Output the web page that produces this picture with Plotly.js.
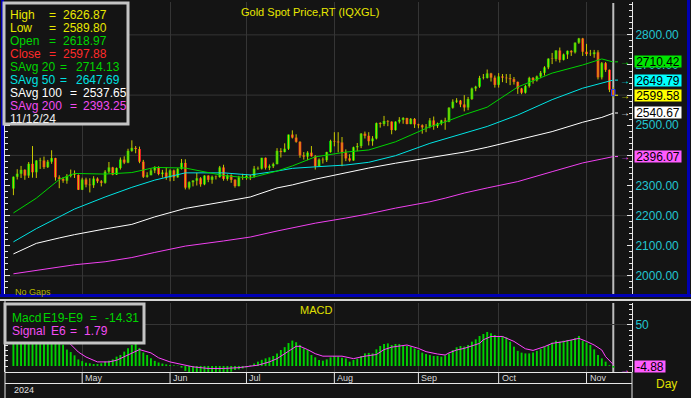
<!DOCTYPE html>
<html><head><meta charset="utf-8">
<script src="https://cdn.plot.ly/plotly-3.0.1.min.js"></script>
<style>html,body{margin:0;padding:0;background:#141414;overflow:hidden}#chart{width:691px;height:398px}</style>
</head><body><div id="chart"></div>
<script>
// ---------------- DATA ----------------
const startDate = '2024-04-05';
const barCount = 158;
function weekdays(start, n){const out=[];const d=new Date(start+'T00:00:00Z');while(out.length<n){const wd=d.getUTCDay();if(wd!==0&&wd!==6)out.push(d.toISOString().slice(0,10));d.setUTCDate(d.getUTCDate()+1);}return out;}
const dates = weekdays(startDate, barCount);

const open = [
2290,2329,2339,2352,2333,2372,2344,2383,2383,2361,2379,2391,2327,2322,2316,2332,2337,2335,
2286,2320,2303,2301,2323,2314,2309,2346,2360,2336,2358,2386,2376,2415,2425,2421,2379,2329,2334,2350,2361,2338,2343,
2327,2350,2327,2355,2375,2293,2311,2316,2324,2304,2333,2319,2329,2328,2360,2322,2334,2319,2298,2327,
2326,2332,2330,2356,2356,2392,2359,2364,2371,2415,2411,2422,2469,2459,2445,2400,2396,2409,2397,2364,2386,2384,2411,
2448,2446,2443,2410,2390,2383,2427,2431,2472,2465,2447,2456,2507,2504,2514,2512,2484,2512,2518,2524,2504,2521,
2503,2500,2493,2495,2516,2497,2506,2516,2512,2558,2578,2582,2569,2559,2587,2622,2628,2657,2657,2672,2658,
2634,2662,2658,2656,2653,2644,2622,2608,2630,2657,2649,2662,2674,2692,2721,2720,2748,2717,2735,2747,2742,2774,2788,
2744,2736,2736,2742,2659,2706,2684,2618.97];
const high = [
2330,2354,2365,2354,2378,2431,2384,2392,2396,2385,2417,2392,2334,2328,2338,2353,2350,2337,
2326,2326,2324,2331,2327,2318,2351,2378,2362,2360,2393,2397,2422,2450,2431,2429,2385,2344,2357,2364,2364,2352,2360,
2354,2353,2358,2388,2387,2314,2318,2342,2328,2334,2334,2333,2333,2365,2369,2337,2337,2321,2332,2339,
2338,2336,2365,2363,2392,2393,2370,2376,2424,2424,2440,2469,2483,2470,2447,2411,2414,2431,2401,2390,2393,2412,2452,
2477,2477,2461,2420,2404,2429,2441,2474,2479,2477,2464,2509,2510,2531,2517,2513,2513,2527,2527,2525,2524,2524,
2505,2503,2504,2524,2529,2509,2518,2525,2560,2586,2590,2584,2600,2594,2625,2631,2664,2670,2685,2674,2665,
2673,2670,2670,2670,2660,2645,2624,2634,2661,2660,2665,2680,2696,2722,2740,2749,2758,2738,2748,2749,2775,2790,2790,
2770,2750,2750,2749,2710,2710,2685,2626.87];
const low = [
2268,2320,2325,2319,2325,2326,2325,2355,2355,2358,2372,2316,2291,2309,2306,2327,2325,2285,
2285,2294,2277,2292,2308,2297,2306,2340,2334,2335,2353,2371,2374,2412,2407,2374,2325,2326,2334,2341,2334,2326,2319,
2314,2315,2326,2353,2287,2287,2297,2300,2296,2301,2311,2306,2320,2326,2316,2316,2309,2293,2297,2319,
2319,2318,2326,2352,2353,2353,2351,2358,2370,2393,2410,2418,2456,2442,2392,2386,2384,2396,2353,2364,2373,2378,2409,
2430,2410,2364,2381,2379,2382,2414,2424,2456,2433,2432,2453,2492,2497,2497,2470,2482,2506,2505,2503,2503,2491,
2490,2472,2477,2490,2485,2491,2500,2485,2510,2555,2574,2560,2546,2550,2584,2613,2624,2652,2655,2645,2625,
2625,2643,2640,2633,2635,2604,2603,2605,2625,2638,2645,2656,2665,2686,2703,2712,2708,2715,2720,2730,2738,2770,2730,
2730,2730,2724,2652,2652,2677,2610,2589.80];
const close = [
2329,2339,2352,2333,2372,2344,2383,2383,2361,2379,2391,2327,2322,2316,2332,2337,2335,2286,
2320,2303,2301,2323,2314,2309,2346,2360,2336,2358,2386,2376,2415,2425,2421,2379,2329,2334,2350,2361,2338,2343,2327,
2350,2327,2355,2375,2293,2311,2316,2324,2304,2333,2319,2329,2328,2360,2322,2334,2319,2298,2327,2326,
2332,2330,2356,2356,2392,2359,2364,2371,2415,2411,2422,2469,2459,2445,2400,2396,2409,2397,2364,2386,2384,2411,2448,
2446,2443,2410,2390,2383,2427,2431,2472,2465,2447,2456,2507,2504,2514,2512,2484,2512,2518,2524,2504,2521,2503,
2500,2493,2495,2516,2497,2506,2516,2512,2558,2578,2582,2569,2559,2587,2622,2628,2657,2657,2672,2658,2634,
2662,2658,2656,2653,2644,2622,2608,2630,2657,2649,2662,2674,2692,2721,2720,2748,2717,2735,2747,2742,2774,2788,2744,
2736,2736,2742,2659,2706,2684,2618,2597.88];

// moving averages (bar index -> value)
const smaIdx = [0,6,12,16,24,31,37,45,55,62,69,73,79,87,93,100,109,113,118,124,132,141,149,154,157];
const sma20  = [2209,2258,2320,2340,2338,2343,2360,2358,2333,2325,2348,2365,2395,2411,2418,2445,2495,2511,2535,2560,2627,2673,2700,2720,2710];
const sma50  = [2113,2157,2196,2222,2262,2294,2318,2342,2342,2335,2348,2357,2362,2368,2377,2399,2440,2455,2475,2496,2534,2585,2623,2640,2650];
const sma100 = [2073,2108,2126,2137,2156,2171,2196,2224,2246,2262,2292,2302,2321,2343,2358,2374,2392,2400,2411,2427,2451,2479,2510,2526,2540];
const sma200 = [2007,2019,2030,2037,2047,2061,2078,2099,2116,2129,2149,2160,2175,2192,2206,2225,2246,2258,2275,2292,2313,2346,2375,2388,2396];

// MACD histogram (one per bar) and signal line
const macdHist = [
50,52,54,55,56,57,57,56,55,53,50,44,36,26,20,17,13,8,6,4,
3.3,2.4,2.4,3.3,5.3,6.5,8.1,11.4,13.4,17.5,21.5,25.6,27.6,22,16.5,13.4,9.5,6.3,4.3,3,
2,1.2,0.8,0.5,-2,-6,-9,-10,-9,-10,-10,-9,-10,-10,-8,-9,-8,-7,-5,-4,
-3,-2,1,3,5.3,7.5,9.3,10.6,12.2,15.4,19.5,23,28,31,29,25.6,21.5,19.5,13.4,10.6,
7.3,6.5,8.1,10.6,12.2,11.4,10,9.3,5.3,7.3,8.9,12.2,15.4,16,15.4,20.3,24.4,26.8,27.6,25.6,
26.8,26.8,25,24.4,23.6,21.5,19.5,16.3,14.6,13.4,12.2,12.2,11.4,13,15.4,19.5,22.8,24.4,23.6,25.6,
29.7,32.5,36.6,39,41.5,39.8,37.8,36.6,36.6,35,29.7,23.6,18.5,16.3,15.4,15.4,16.5,18.5,20.5,23.6,
25.6,28.5,30.9,29.7,30.9,31.7,31.7,34,36.6,30.9,28.5,25.6,20.3,13.4,9.3,5.3,1,-2];
const sigIdx = [0,8,12,14,17,19,22,25,27,30,33,36,38,41,44,47,51,55,59,62,64,67,69,72,74,75,77,79,81,84,86,89,92,95,97,99,101,103,106,108,111,113,114,116,118,120,122,123,125,128,131,134,136,139,141,144,147,148,150,152,154,155,157];
const sigVal = [46,44,38,31,17,11,5,5,7,14,20,16,10,5,2,-1,-3,-3,-2,0,1,5,9,18,24,24,20,15,12,12,12,9,12,14,20,23,24,25.6,21.5,17.5,14.6,13.4,16,19.5,21.5,24.4,27.6,32,36,36,30,21,19,23.6,27.6,29.7,32.5,33.7,30,25.6,19.5,11.4,1.8];

// text values
const chartTitle = 'Gold Spot Price,RT (IQXGL)';
const legendLabels = ['High','Low','Open','Close','SAvg 20','SAvg 50','SAvg 100','SAvg 200'];
const legendValues = ['2626.87','2589.80','2618.97','2597.88','2714.13','2647.69','2537.65','2393.25'];
const legendDate = '11/12/24';
const macdLegend = [['Macd','E19-E9','=','-14.31'],['Signal','E6','=','1.79']];
const endLabels = [2710.42, 2649.79, 2599.58, 2540.67, 2396.07];
const macdEndLabel = '-4.88';
const priceTicks = [2000,2100,2200,2300,2400,2500,2600,2700,2800];
const monthNames = ['Jan','Feb','Mar','Apr','May','Jun','Jul','Aug','Sep','Oct','Nov','Dec'];
const yearLabel = '2024';

// ---------------- STYLE / LAYOUT ----------------
const F = "Arial, 'Liberation Sans', sans-serif";
const W = 691, H = 398, PL = 5, PR = 632, PT = 2, PB = 372;
const px2x = p => (p - PL) / (PR - PL);
const py2y = p => (PB - p) / (PB - PT);
const BG = '#141414', GRID = '#353535';
const C = {yellow:'#e8e800', green:'#00d400', red:'#ff2a2a', cyan:'#00e0e0', white:'#ffffff', magenta:'#f24cf2'};

const monthStart = [];
for (let i = 1; i < dates.length; i++) if (dates[i].slice(5,7) !== dates[i-1].slice(5,7)) monthStart.push(i);

// traces
const wx = [], wy = [];
dates.forEach((d,i) => { wx.push(d,d,null); wy.push(low[i],high[i],null); });
const traces = [];
traces.push({type:'scatter', mode:'lines', x:wx, y:wy, line:{color:'#c8c800', width:1}, connectgaps:false, hoverinfo:'skip', xaxis:'x', yaxis:'y'});
traces.push({type:'bar', x:dates, base:open.map((o,i)=>Math.min(o,close[i])),
  y:open.map((o,i)=>Math.max(Math.abs(close[i]-o),1.5)), width:0.72,
  marker:{color:open.map((o,i)=>close[i]>=o?'#00dc00':'#ff2424'), line:{width:0}}, xaxis:'x', yaxis:'y'});
const smaX = smaIdx.map(i=>dates[i]);
[[sma200,'#f040f0'],[sma100,'#ffffff'],[sma50,'#00e4e4'],[sma20,'#00d400']].forEach(([v,c]) =>
  traces.push({type:'scatter', mode:'lines', x:smaX, y:v, line:{color:c, width:1}, xaxis:'x', yaxis:'y'}));
traces.push({type:'bar', x:dates, y:macdHist, width:0.5, marker:{color:'#00d200', line:{width:0}}, xaxis:'x', yaxis:'y2'});
traces.push({type:'scatter', mode:'lines', x:sigIdx.map(i=>dates[i]), y:sigVal, line:{color:'#ff44ff', width:1}, xaxis:'x', yaxis:'y2'});

// shapes
const shapes = [];
const L = (x0,y0,x1,y1,color,width,extra) => Object.assign({type:'line', xref:'paper', yref:'paper',
  x0:px2x(x0), x1:px2x(x1), y0:py2y(y0), y1:py2y(y1), line:{color, width}, layer:'above'}, extra||{});
for (let v = 2000; v <= 2800; v += 200)
  shapes.push({type:'line', xref:'paper', x0:0, x1:1, yref:'y', y0:v, y1:v, line:{color:GRID, width:1}, layer:'below'});
const last = dates.length - 1;
shapes.push({type:'line', xref:'x', x0:last, x1:last, yref:'paper', y0:py2y(294), y1:py2y(3), line:{color:'#bdbdbd', width:2}, layer:'below'});
shapes.push({type:'line', xref:'x', x0:last, x1:last, yref:'paper', y0:0, y1:py2y(303), line:{color:'#bdbdbd', width:2}, layer:'below'});
// blue frame of price pane
shapes.push(L(2.5,0,2.5,297,'#0000b4',3));
shapes.push(L(0,295.5,691,295.5,'#0000b4',3));
shapes.push(L(688.5,0,688.5,297,'#0000b4',3));
// separator and lower frame
shapes.push(L(0,300,691,300,'#d6d6d6',2));
shapes.push(L(5,301,5,398,'#e6e6e6',1));
shapes.push(L(5,372.5,632,372.5,'#e6e6e6',1));
shapes.push(L(5,383.5,632,383.5,'#e6e6e6',1));
shapes.push(L(632,372,632,398,'#e6e6e6',1));
monthStart.forEach(i => shapes.push({type:'line', xref:'x', x0:i, x1:i, yref:'paper', y0:py2y(383), y1:py2y(372), line:{color:'#e6e6e6', width:1}, layer:'above'}));
// legend boxes
shapes.push({type:'rect', xref:'paper', yref:'paper', x0:px2x(4), x1:px2x(128), y0:py2y(124), y1:py2y(3), fillcolor:BG, line:{color:'#c4c4c4', width:3}, layer:'above'});
shapes.push({type:'rect', xref:'paper', yref:'paper', x0:px2x(5), x1:px2x(144), y0:py2y(343), y1:py2y(304), fillcolor:BG, line:{color:'#c4c4c4', width:3}, layer:'above'});
// highlight of the last bar
shapes.push({type:'rect', xref:'x', x0:last-0.45, x1:last+0.45, yref:'y', y0:Math.min(open[last],close[last]), y1:Math.max(open[last],close[last]), line:{color:'#2848ff', width:1}, layer:'above'});

// annotations
const ann = [];
const A = (text, x, y, color, size, xa, extra) => ann.push(Object.assign({xref:'paper', yref:'paper', x:px2x(x), y:py2y(y),
  text, showarrow:false, xanchor:xa||'left', yanchor:'middle', font:{family:F, size:size||12, color}}, extra||{}));
A(chartTitle, 310, 12, C.yellow, 11, 'center');
const legColors = [C.yellow, C.yellow, C.green, C.red, C.green, C.cyan, C.white, C.magenta];
const eqX = [47,47,47,47,58,58,68,68], valX = [61,61,61,61,74,74,81,81];
legendLabels.forEach((t,i) => {
  const y = 15.5 + i*12.95;
  A(t, 8, y, legColors[i], 12);
  A('=', eqX[i], y, legColors[i], 12);
  A(legendValues[i], valX[i], y, legColors[i], 12);
});
A(legendDate, 8, 15.5 + 8*12.95, '#f0f0f0', 12);
A('No Gaps', 13, 292, '#b4b400', 9);
A('MACD', 316, 310, '#e0e000', 11, 'center');
const mlX = [[10,41,88,103],[10,49,68,82]], mlY = [317.5, 331], mlC = ['#00d400', C.magenta];
macdLegend.forEach((row,r) => row.forEach((t,k) => A(t, mlX[r][k], mlY[r], mlC[r], 12)));
// right side value boxes
const boxBg = ['#00e600','#00ffff','#ffff00','#ffffff','#ff5cff'];
const arrowC = ['#00e000','#00e8e8','#f0f000','#ffffff','#ff50ff'];
endLabels.forEach((v,i) => {
  ann.push({xref:'paper', x:px2x(633.5), xanchor:'left', yref:'y', y:v, yanchor:'middle', text:v.toFixed(2),
    showarrow:false, bgcolor:boxBg[i], borderpad:0, height:11, width:46, align:'center', valign:'middle',
    font:{family:F, size:12, color:'#000000'}});
  ann.push({xref:'paper', x:px2x(624.5), xanchor:'center', yref:'y', y:v, yanchor:'middle', text:'→',
    showarrow:false, font:{family:F, size:10, color:arrowC[i]}});
  shapes.push({type:'line', xref:'paper', x0:px2x(615), x1:px2x(620), yref:'y', y0:v, y1:v, line:{color:arrowC[i], width:1, dash:'dot'}, layer:'above'});
});
A(macdEndLabel, 633.5, 366, '#000000', 12, 'left', {bgcolor:'#ff5cff', borderpad:0, height:11, width:30});
A('→', 624.5, 369, '#ff50ff', 10, 'center');
monthStart.forEach(i => ann.push({xref:'x', x:i, xanchor:'left', xshift:1, yref:'paper', y:py2y(378), yanchor:'middle',
  text:monthNames[parseInt(dates[i].slice(5,7),10)-1], showarrow:false, font:{family:F, size:9, color:'#d8d8d8'}}));
A(yearLabel, 24, 389.5, '#e0e0e0', 9, 'center');
A('Day', 666, 383.5, '#e0e000', 12, 'center');

const axisTick = {color:'#e6e6e6'};
const layout = {
  width:W, height:H, margin:{l:PL, r:W-PR, t:PT, b:H-PB, pad:0},
  paper_bgcolor:BG, plot_bgcolor:BG, showlegend:false, hovermode:false, barmode:'overlay',
  font:{family:F, size:12, color:'#ffffff'},
  xaxis:{type:'category', categoryorder:'array', categoryarray:dates, range:[-2.2,161.9],
    tickmode:'array', tickvals:monthStart.map(i=>dates[i]), showticklabels:false, ticks:'',
    showgrid:true, gridcolor:GRID, gridwidth:1, zeroline:false, showline:false, anchor:'y2', fixedrange:true},
  yaxis:{domain:[(PB-294)/(PB-PT),1], range:[1940,2909], side:'right', anchor:'x',
    tickmode:'array', tickvals:priceTicks, ticktext:priceTicks.map(v=>v.toFixed(2)),
    tickfont:{family:F, size:12, color:'#22c6d0'}, ticks:'inside', ticklen:5, tickwidth:1, tickcolor:axisTick.color,
    minor:{tickmode:'linear', tick0:0, dtick:20, ticks:'inside', ticklen:3, tickcolor:axisTick.color, showgrid:false},
    showgrid:false, zeroline:false, showline:true, linecolor:axisTick.color, linewidth:1, mirror:'ticks', fixedrange:true},
  yaxis2:{domain:[0,(PB-303)/(PB-PT)], range:[-7.3,76.8], side:'right', anchor:'x',
    tickmode:'array', tickvals:[50], ticktext:['50'],
    tickfont:{family:F, size:12, color:'#22c6d0'}, ticks:'inside', ticklen:5, tickwidth:1, tickcolor:axisTick.color,
    minor:{tickmode:'linear', tick0:0, dtick:6.25, ticks:'inside', ticklen:3, tickcolor:axisTick.color, showgrid:false},
    showgrid:true, gridcolor:GRID, zeroline:false, showline:true, linecolor:axisTick.color, linewidth:1, mirror:'ticks', fixedrange:true},
  shapes, annotations:ann
};
Plotly.newPlot('chart', traces, layout, {staticPlot:true, displayModeBar:false});
</script></body></html>
